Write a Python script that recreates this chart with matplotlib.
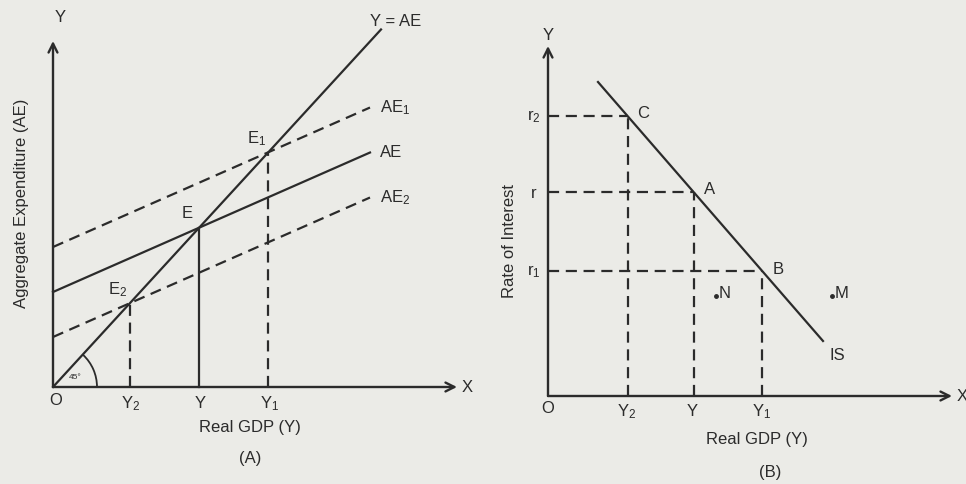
import matplotlib
matplotlib.use("Agg")
import matplotlib.pyplot as plt
from matplotlib.patches import Arc
import numpy as np

plt.rcParams['font.family'] = ['Liberation Sans', 'DejaVu Sans']
plt.rcParams['mathtext.fontset'] = 'custom'
plt.rcParams['mathtext.rm'] = 'Liberation Sans'
plt.rcParams['mathtext.it'] = 'Liberation Sans'

# ---- panel A: aggregate expenditure (units ~ pixels from origin) ----
ae_names = ["AE", "AE$_1$", "AE$_2$"]
ae_intercepts = [95, 140, 50]
ae_styles = ["-", "--", "--"]
ae_slope = 0.44
ae_x_end = 317
diag_slope = 1.09
diag_x_end = 328
eq_names = ["E", "E$_1$", "E$_2$"]
eq_ticks = ["Y", "Y$_1$", "Y$_2$"]

# ---- panel B: IS curve ----
is_x = [50, 275]
is_r = [314, 55]
is_names = ["C", "A", "B"]
r_levels = [280, 204, 125]
r_ticks = ["r$_2$", "r", "r$_1$"]
y_ticks_b = ["Y$_2$", "Y", "Y$_1$"]
off_points = {"N": (168, 100), "M": (284, 100)}

ink = "#2b2b2b"
bg = "#ebebe7"
W, H = 966, 485

fig = plt.figure(figsize=(W / 100, H / 100), dpi=100, facecolor=bg)


def panel(ox, oy):
    # axes covering the whole figure, data unit = 1 pixel, origin at (ox, oy)
    ax = fig.add_axes([0, 0, 1, 1])
    ax.set_xlim(-ox, W - ox)
    ax.set_ylim(-(H - oy), oy)
    ax.axis("off")
    ax.patch.set_alpha(0)
    return ax


def axes_arrows(ax, xmax, ymax):
    ap = dict(arrowstyle="->", lw=1.7, color=ink, mutation_scale=16, shrinkA=0, shrinkB=0)
    ax.annotate("", xy=(xmax, 0), xytext=(0, 0), arrowprops=ap)
    ax.annotate("", xy=(0, ymax), xytext=(0, 0), arrowprops=ap)


fs = 12
lw = 1.6
dash = (0, (5, 3))

# ---------- panel A ----------
ax = panel(53, 388)
axes_arrows(ax, 404, 346)
ax.text(7, 370, "Y", fontsize=fs, color=ink, ha="center", va="center")
ax.text(414, 0, "X", fontsize=fs, color=ink, ha="center", va="center")
ax.text(3, -13, "O", fontsize=fs, color=ink, ha="center", va="center")

xd = np.array([0, diag_x_end])
ax.plot(xd, diag_slope * xd, color=ink, lw=lw)
ax.text(343, 366, "Y = AE", fontsize=fs, color=ink, ha="center", va="center")

xa = np.array([0, ae_x_end])
for name, b, ls, en, tk in zip(ae_names, ae_intercepts, ae_styles, eq_names, eq_ticks):
    ax.plot(xa, b + ae_slope * xa, color=ink, lw=lw, ls=ls if ls == "-" else dash)
    ax.text(ae_x_end + 10, b + ae_slope * ae_x_end + 1, name, fontsize=fs, color=ink,
            ha="left", va="center")
    xe = b / (diag_slope - ae_slope)
    ye = diag_slope * xe
    ax.plot([xe, xe], [0, ye], color=ink, lw=lw, ls=ls if ls == "-" else dash)
    ax.text(xe - 12, ye + 15, en, fontsize=fs, color=ink, ha="center", va="center")
    ax.text(xe + 1, -16, tk, fontsize=fs, color=ink, ha="center", va="center")

ax.add_patch(Arc((0, 0), 88, 88, theta1=0, theta2=47, color=ink, lw=1.3))
ax.text(22, 10, "45°", fontsize=6, color=ink, ha="center", va="center")
ax.text(197, -40, "Real GDP (Y)", fontsize=fs, color=ink, ha="center", va="center")
ax.text(197, -71, "(A)", fontsize=fs, color=ink, ha="center", va="center")
ax.text(-31, 185, "Aggregate Expenditure (AE)", fontsize=fs, color=ink,
        ha="center", va="center", rotation=90)

# ---------- panel B ----------
ax = panel(548, 397)
axes_arrows(ax, 404, 350)
ax.text(0, 362, "Y", fontsize=fs, color=ink, ha="center", va="center")
ax.text(414, 0, "X", fontsize=fs, color=ink, ha="center", va="center")
ax.text(0, -12, "O", fontsize=fs, color=ink, ha="center", va="center")

ax.plot(is_x, is_r, color=ink, lw=lw)
ax.text(is_x[1] + 14, is_r[1] - 14, "IS", fontsize=fs, color=ink, ha="center", va="center")
slope = (is_r[1] - is_r[0]) / (is_x[1] - is_x[0])
for name, r, rt, yt in zip(is_names, r_levels, r_ticks, y_ticks_b):
    xr = is_x[0] + (r - is_r[0]) / slope
    ax.plot([0, xr], [r, r], color=ink, lw=lw, ls=dash)
    ax.plot([xr, xr], [0, r], color=ink, lw=lw, ls=dash)
    ax.text(xr + 16, r + 3, name, fontsize=fs, color=ink, ha="center", va="center")
    ax.text(-14, r, rt, fontsize=fs, color=ink, ha="center", va="center")
    ax.text(xr - 1, -15, yt, fontsize=fs, color=ink, ha="center", va="center")

for name, (px, py) in off_points.items():
    ax.plot(px, py, "o", color=ink, ms=2.5)
    ax.text(px + 3, py + 3, name, fontsize=fs, color=ink, ha="left", va="center")

ax.text(209, -43, "Real GDP (Y)", fontsize=fs, color=ink, ha="center", va="center")
ax.text(222, -76, "(B)", fontsize=fs, color=ink, ha="center", va="center")
ax.text(-38, 156, "Rate of Interest", fontsize=fs, color=ink,
        ha="center", va="center", rotation=90)

fig.savefig("out.png", dpi=100, facecolor=bg)
